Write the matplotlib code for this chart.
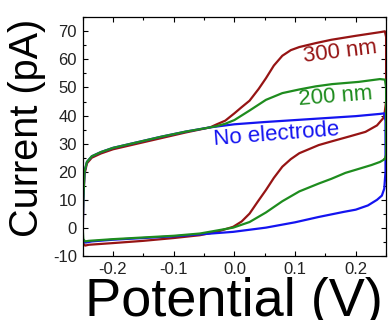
import matplotlib
matplotlib.use("Agg")
import matplotlib.pyplot as plt
from matplotlib.ticker import MultipleLocator

plt.rcParams['font.family'] = ['Liberation Sans', 'DejaVu Sans']

# Cyclic voltammograms: closed loops (potential in V, current in pA)
v_300 = [-0.25, -0.249, -0.247, -0.243, -0.235, -0.22, -0.2, -0.16, -0.12, -0.08, -0.04, -0.03, -0.015,
         0.0, 0.012, 0.025, 0.04, 0.052, 0.065, 0.079, 0.093, 0.107, 0.134, 0.16, 0.2, 0.243, 0.248, 0.25,
         0.25, 0.247, 0.245, 0.235, 0.216, 0.19, 0.16, 0.139, 0.107, 0.093, 0.079, 0.065, 0.052, 0.038,
         0.025, 0.012, -0.002, -0.029, -0.057, -0.1, -0.15, -0.2, -0.24, -0.246, -0.249, -0.25]
i_300 = [-3, 10, 19, 23, 25, 26.5, 28, 30, 32, 34, 35.8, 36.8, 38.2,
         40.8, 43.0, 45.3, 49.5, 53.3, 57.8, 61.3, 63.3, 64.4, 65.8, 67.0, 68.4, 69.8, 70, 68,
         45, 40, 39, 36.5, 34.2, 32.6, 30.8, 29.5, 26.6, 24.5, 21.8, 17.8, 13.5, 9.2,
         5.1, 2.3, 0.4, -1.4, -2.6, -3.6, -4.6, -5.4, -6.0, -6.3, -5.5, -3]

v_200 = [-0.25, -0.249, -0.247, -0.243, -0.235, -0.22, -0.2, -0.16, -0.12, -0.08, -0.04, -0.03, -0.015,
         0.0, 0.025, 0.052, 0.079, 0.107, 0.134, 0.161, 0.205, 0.24, 0.248, 0.25,
         0.25, 0.248, 0.24, 0.226, 0.2, 0.183, 0.16, 0.139, 0.107, 0.079, 0.052, 0.025,
         -0.002, -0.057, -0.1, -0.15, -0.2, -0.24, -0.246, -0.249, -0.25]
i_200 = [0, 10, 20, 23.5, 25.5, 27, 28.5, 30.5, 32.5, 34.3, 35.8, 36.2, 37.1,
         38.4, 41.8, 45.6, 48.0, 49.3, 50.4, 51.2, 52.0, 53.0, 52.8, 50,
         26, 24.5, 23.5, 22.4, 20.7, 19.6, 17.5, 15.8, 13.0, 9.5, 5.5, 2.1,
         0.1, -2.0, -2.8, -3.4, -4.0, -4.6, -4.8, -4, 0]

v_none = [-0.25, -0.249, -0.247, -0.243, -0.235, -0.22, -0.2, -0.16, -0.12, -0.08, -0.04,
          0.0, 0.05, 0.1, 0.15, 0.2, 0.24, 0.247, 0.249, 0.249, 0.247, 0.243, 0.235, 0.22,
          0.2, 0.18, 0.139, 0.1, 0.052, -0.002, -0.057, -0.1, -0.15, -0.2, -0.235, -0.245, -0.249, -0.25]
i_none = [-3, 10, 20, 23.5, 25.5, 27, 28.5, 30.5, 32.5, 34.3, 35.8,
          36.9, 37.7, 38.4, 39.1, 39.8, 40.6, 40.8, 38, 20, 14, 11.5, 10, 8,
          6.5, 5.7, 3.9, 2.0, 0.1, -1.4, -2.3, -3.0, -3.6, -4.2, -4.8, -5.2, -4.8, -3]

red = '#961414'
green = '#1E8C1E'
blue = '#1414F0'

fig = plt.figure(figsize=(3.9, 3.2), dpi=100)
ax = fig.add_axes([0.212, 0.2, 0.778, 0.746])

ax.plot(v_300, i_300, color=red, lw=1.6)
ax.plot(v_none, i_none, color=blue, lw=1.6)
ax.plot(v_200, i_200, color=green, lw=1.6)

ax.set_xlim(-0.25, 0.25)
ax.set_ylim(-10, 75)
ax.xaxis.set_minor_locator(MultipleLocator(0.05))
ax.yaxis.set_minor_locator(MultipleLocator(5))
ax.set_xticks([-0.2, -0.1, 0.0, 0.1, 0.2])
ax.set_xticklabels(['-0.2', '-0.1', '0.0', '0.1', '0.2'])
ax.set_yticks([-10, 0, 10, 20, 30, 40, 50, 60, 70])
ax.set_yticklabels(['-10', '0', '10', '20', '30', '40', '50', '60', '70'])

ax.tick_params(which='both', direction='in', top=True, right=True, width=0.8, labelsize=12,
               labelcolor='#222222')
ax.tick_params(which='major', length=3.5)
ax.tick_params(which='minor', length=2)
ax.tick_params(axis='x', pad=4)
ax.tick_params(axis='y', pad=4)
for s in ax.spines.values():
    s.set_linewidth(0.9)

ax.set_xlabel('Potential (V)', fontsize=39, labelpad=0)
ax.set_ylabel('Current (pA)', fontsize=28.5, labelpad=0)
ax.yaxis.set_label_coords(-0.122, 0.535)

ax.text(0.174, 62.5, '300 nm', color=red, fontsize=16, rotation=7, ha='center', va='center')
ax.text(0.166, 46.9, '200 nm', color=green, fontsize=16, rotation=4.5, ha='center', va='center')
ax.text(0.069, 33.4, 'No electrode', color=blue, fontsize=16, rotation=4.5, ha='center', va='center')

fig.savefig('out.png', dpi=100)
